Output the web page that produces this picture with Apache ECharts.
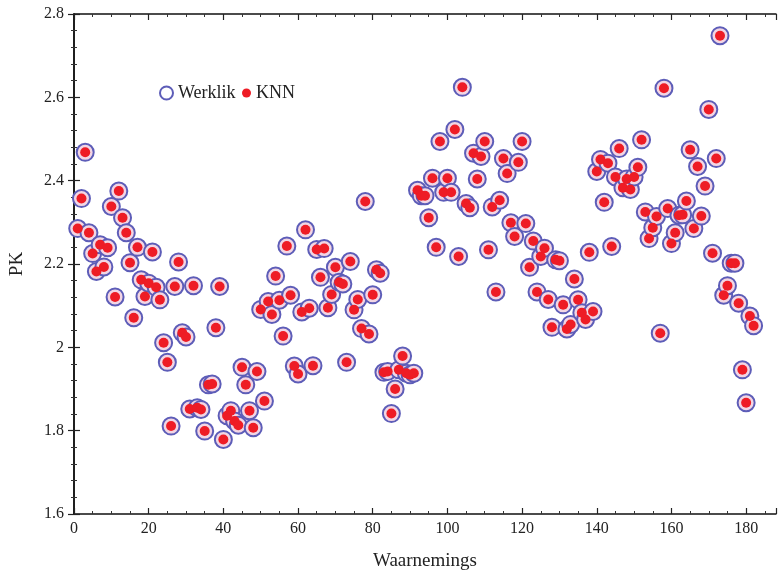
<!DOCTYPE html>
<html>
<head>
    <meta charset="utf-8">
    <script src="https://cdn.jsdelivr.net/npm/echarts@6/dist/echarts.min.js"></script>
    <style>
        html, body { margin: 0; padding: 0; background: #fff; }
        #main { width: 779px; height: 576px; }
    </style>
</head>
<body>
<div id="main"></div>
<script>
    var werklik = [
        2.285, 2.357, 2.468, 2.275, 2.225, 2.182, 2.246, 2.193, 2.239, 2.338,
        2.121, 2.375, 2.311, 2.275, 2.203, 2.071, 2.240, 2.162, 2.122, 2.154,
        2.229, 2.144, 2.114, 2.011, 1.964, 1.811, 2.146, 2.205, 2.035, 2.025,
        1.852, 2.148, 1.855, 1.851, 1.799, 1.910, 1.912, 2.047, 2.146, 1.779,
        1.836, 1.848, 1.823, 1.813, 1.952, 1.910, 1.848, 1.807, 1.942, 2.091,
        1.871, 2.110, 2.079, 2.171, 2.113, 2.027, 2.243, 2.125, 1.955, 1.936,
        2.085, 2.282, 2.094, 1.956, 2.235, 2.168, 2.237, 2.095, 2.127, 2.192,
        2.156, 2.152, 1.964, 2.206, 2.090, 2.115, 2.045, 2.350, 2.032, 2.126,
        2.186, 2.178, 1.940, 1.942, 1.841, 1.900, 1.946, 1.979, 1.938, 1.934,
        1.938, 2.377, 2.364, 2.364, 2.311, 2.406, 2.240, 2.494, 2.372, 2.406,
        2.372, 2.523, 2.218, 2.624, 2.345, 2.335, 2.466, 2.404, 2.458, 2.494,
        2.234, 2.337, 2.133, 2.353, 2.453, 2.417, 2.299, 2.266, 2.444, 2.494,
        2.297, 2.192, 2.255, 2.133, 2.218, 2.238, 2.115, 2.048, 2.210, 2.208,
        2.102, 2.044, 2.055, 2.164, 2.114, 2.083, 2.067, 2.228, 2.086, 2.422,
        2.451, 2.348, 2.442, 2.242, 2.409, 2.477, 2.383, 2.404, 2.379, 2.409,
        2.432, 2.498, 2.325, 2.261, 2.287, 2.314, 2.034, 2.622, 2.333, 2.249,
        2.275, 2.317, 2.318, 2.351, 2.474, 2.285, 2.434, 2.315, 2.387, 2.571,
        2.226, 2.453, 2.748, 2.125, 2.148, 2.202, 2.202, 2.106, 1.946, 1.867,
        2.075, 2.052
    ];
    var knn = [
        2.285, 2.357, 2.468, 2.275, 2.225, 2.182, 2.246, 2.193, 2.239, 2.338,
        2.121, 2.375, 2.311, 2.275, 2.203, 2.071, 2.240, 2.162, 2.122, 2.154,
        2.229, 2.144, 2.114, 2.011, 1.964, 1.811, 2.146, 2.205, 2.035, 2.025,
        1.852, 2.148, 1.855, 1.851, 1.799, 1.910, 1.912, 2.047, 2.146, 1.779,
        1.836, 1.848, 1.823, 1.813, 1.952, 1.910, 1.848, 1.807, 1.942, 2.091,
        1.871, 2.110, 2.079, 2.171, 2.113, 2.027, 2.243, 2.125, 1.955, 1.936,
        2.085, 2.282, 2.094, 1.956, 2.235, 2.168, 2.237, 2.095, 2.127, 2.192,
        2.156, 2.152, 1.964, 2.206, 2.090, 2.115, 2.045, 2.350, 2.032, 2.126,
        2.186, 2.178, 1.940, 1.942, 1.841, 1.900, 1.946, 1.979, 1.938, 1.934,
        1.938, 2.377, 2.364, 2.364, 2.311, 2.406, 2.240, 2.494, 2.372, 2.406,
        2.372, 2.523, 2.218, 2.624, 2.345, 2.335, 2.466, 2.404, 2.458, 2.494,
        2.234, 2.337, 2.133, 2.353, 2.453, 2.417, 2.299, 2.266, 2.444, 2.494,
        2.297, 2.192, 2.255, 2.133, 2.218, 2.238, 2.115, 2.048, 2.210, 2.208,
        2.102, 2.044, 2.055, 2.164, 2.114, 2.083, 2.067, 2.228, 2.086, 2.422,
        2.451, 2.348, 2.442, 2.242, 2.409, 2.477, 2.383, 2.404, 2.379, 2.409,
        2.432, 2.498, 2.325, 2.261, 2.287, 2.314, 2.034, 2.622, 2.333, 2.249,
        2.275, 2.317, 2.318, 2.351, 2.474, 2.285, 2.434, 2.315, 2.387, 2.571,
        2.226, 2.453, 2.748, 2.125, 2.148, 2.202, 2.202, 2.106, 1.946, 1.867,
        2.075, 2.052
    ];
    var xTicks = [0, 20, 40, 60, 80, 100, 120, 140, 160, 180];

    var serif = 'Liberation Serif';

    function toPoints(arr) {
        var out = [];
        for (var i = 0; i < arr.length; i++) {
            out.push([i + 1, arr[i]]);
        }
        return out;
    }

    var myChart = echarts.init(document.getElementById('main'));

    var axisLine = { show: true, lineStyle: { color: '#111', width: 1.5 } };
    var tick = { show: true, inside: true, length: 6, lineStyle: { color: '#222', width: 1.2 } };
    var minor = { show: true, length: 3, lineStyle: { color: '#333', width: 1 } };

    var option = {
        backgroundColor: '#fff',
        animation: false,
        grid: { left: 73, right: 2, top: 14, bottom: 59 },
        legend: [{
            left: 154, top: 79,
            icon: 'circle', itemWidth: 13, itemHeight: 13,
            textStyle: { fontFamily: serif, fontSize: 18, color: '#222' },
            data: [{ name: 'Werklik', itemStyle: { color: '#fff', borderColor: '#5d5db8', borderWidth: 2 } }]
        }, {
            left: 237, top: 79,
            icon: 'circle', itemWidth: 9, itemHeight: 13,
            textStyle: { fontFamily: serif, fontSize: 18, color: '#222' },
            data: ['KNN']
        }],
        xAxis: [{
            type: 'value', min: 0, max: 188, interval: 20,
            name: 'Waarnemings', nameLocation: 'middle', nameGap: 38,
            nameTextStyle: { fontFamily: serif, fontSize: 19, color: '#222' },
            axisLine: axisLine, axisTick: tick, minorTick: Object.assign({ splitNumber: 4 }, minor),
            splitLine: { show: false },
            axisLabel: {
                fontFamily: serif, fontSize: 16, color: '#222', margin: 7,
                formatter: function (v) { return xTicks.indexOf(v) >= 0 ? String(v) : ''; }
            }
        }, {
            type: 'value', min: 0, max: 188, interval: 20, position: 'top',
            axisLine: axisLine, axisTick: tick, minorTick: Object.assign({ splitNumber: 4 }, minor),
            splitLine: { show: false }, axisLabel: { show: false }
        }],
        yAxis: [{
            type: 'value', min: 1.6, max: 2.8, interval: 0.2,
            name: 'PK', nameLocation: 'middle', nameGap: 47, nameRotate: 90,
            nameTextStyle: { fontFamily: serif, fontSize: 19, color: '#222' },
            axisLine: axisLine, axisTick: tick, minorTick: Object.assign({ splitNumber: 5 }, minor),
            splitLine: { show: false },
            axisLabel: { fontFamily: serif, fontSize: 16, color: '#222', margin: 10 }
        }, {
            type: 'value', min: 1.6, max: 2.8, interval: 0.2, position: 'right',
            axisLine: axisLine, axisTick: tick, minorTick: Object.assign({ splitNumber: 5 }, minor),
            splitLine: { show: false }, axisLabel: { show: false }
        }],
        series: [{
            name: 'Werklik',
            type: 'scatter',
            symbol: 'circle',
            symbolSize: 17,
            data: toPoints(werklik),
            itemStyle: { color: '#f2d6e4', borderColor: '#5d5db8', borderWidth: 2, opacity: 1 }
        }, {
            name: 'KNN',
            type: 'scatter',
            symbol: 'circle',
            symbolSize: 10,
            data: toPoints(knn),
            itemStyle: { color: '#ee1c25', opacity: 1 }
        }]
    };

    myChart.setOption(option);
</script>
</body>
</html>
